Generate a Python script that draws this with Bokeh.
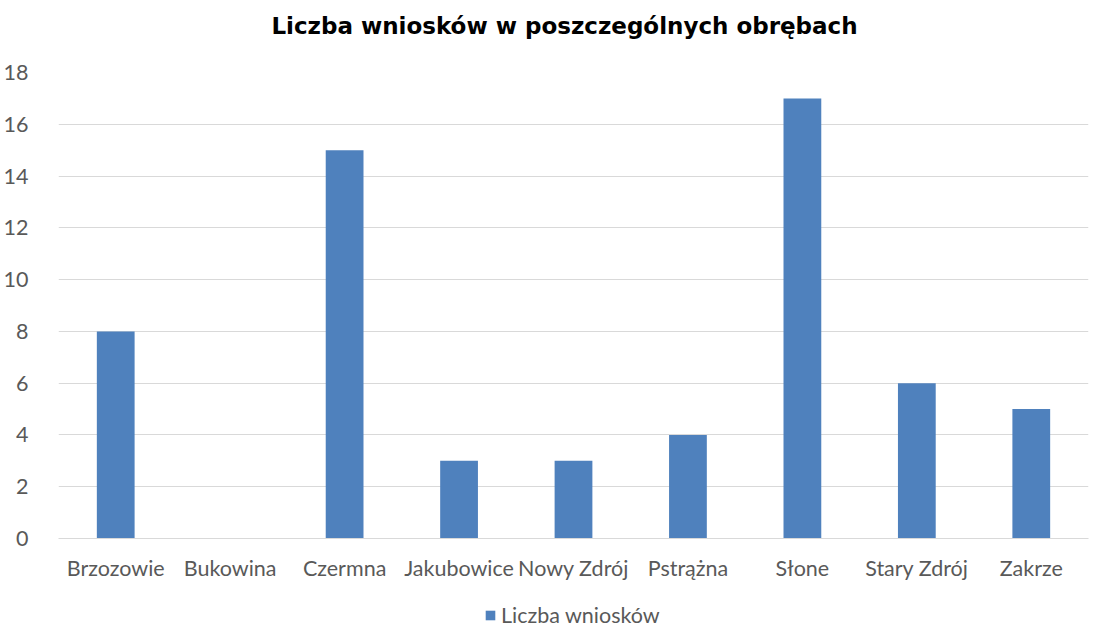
from bokeh.plotting import figure
from bokeh.layouts import column
from bokeh.models import ColumnDataSource, Legend, LegendItem, Label, FixedTicker, Range1d, FactorRange
from bokeh.embed import file_html
from bokeh.resources import INLINE

categories = ["Brzozowie", "Bukowina", "Czermna", "Jakubowice", "Nowy Zdrój",
              "Pstrążna", "Słone", "Stary Zdrój", "Zakrze"]
values = [8, 0, 15, 3, 3, 4, 17, 6, 5]
series_name = "Liczba wniosków"
title_text = "Liczba wniosków w poszczególnych obrębach"
y_ticks = [0, 2, 4, 6, 8, 10, 12, 14, 16, 18]

BAR_COLOR = "#4f81bd"
TEXT_COLOR = "#595959"
FONT = "Lato"
FSIZE = "21.5px"

src = ColumnDataSource(dict(cat=categories, val=values))

# --- title strip ---
tf = figure(width=1091, height=50, x_range=Range1d(0, 1), y_range=Range1d(0, 1),
            output_backend="svg", toolbar_location=None, min_border=0,
            x_axis_type=None, y_axis_type=None)
tf.outline_line_color = None
tf.add_layout(Label(x=506, y=0.5, x_units="screen", text=title_text,
                    text_align="center", text_baseline="middle",
                    text_font="DejaVu Sans", text_font_size="23px",
                    text_font_style="bold", text_color="#000000"))

# --- main chart ---
p = figure(x_range=categories, y_range=Range1d(0, 18), width=1091, height=552,
           output_backend="svg", toolbar_location=None,
           min_border_left=49, min_border_right=3, min_border_top=22, min_border_bottom=64)

p.vbar(x="cat", top="val", width=0.33, source=src, fill_color=BAR_COLOR, line_color=None)

p.outline_line_color = None
p.xgrid.grid_line_color = None
p.ygrid.grid_line_color = "#d9d9d9"
p.ygrid.grid_line_width = 1

p.yaxis.ticker = FixedTicker(ticks=y_ticks)
p.yaxis.axis_line_color = None
p.yaxis.major_tick_line_color = None
p.yaxis.minor_tick_line_color = None
p.yaxis.major_label_text_font = FONT
p.yaxis.major_label_text_font_size = FSIZE
p.yaxis.major_label_text_color = TEXT_COLOR
p.yaxis.major_label_standoff = 24

p.xaxis.axis_line_color = "#d9d9d9"
p.xaxis.major_tick_line_color = None
p.xaxis.minor_tick_line_color = None
p.xaxis.major_label_text_font = FONT
p.xaxis.major_label_text_font_size = FSIZE
p.xaxis.major_label_text_color = TEXT_COLOR
p.xaxis.major_label_standoff = 10
p.x_range.range_padding = 0

# --- legend strip (swatch renderer's factors are not in this strip's range, so no bars show) ---
lf = figure(width=1091, height=26, x_range=FactorRange(factors=["legend"]),
            y_range=Range1d(0, 1),
            output_backend="svg", toolbar_location=None, min_border=0,
            x_axis_type=None, y_axis_type=None)
lf.outline_line_color = None
lf.xgrid.grid_line_color = None
lf.ygrid.grid_line_color = None
swatch = lf.vbar(x="cat", top="val", width=0.33, source=src,
                 fill_color=BAR_COLOR, line_color=None)
legend = Legend(items=[LegendItem(label=series_name, renderers=[swatch])],
                orientation="horizontal", location=(426, 0),
                label_text_font=FONT, label_text_font_size=FSIZE,
                label_text_color=TEXT_COLOR, border_line_color=None,
                background_fill_alpha=0,
                glyph_width=12, glyph_height=12, margin=0, padding=0,
                label_standoff=5)
lf.add_layout(legend, "center")

layout = column(tf, p, lf, spacing=0)
open("out.html", "w").write(file_html(layout, INLINE))
